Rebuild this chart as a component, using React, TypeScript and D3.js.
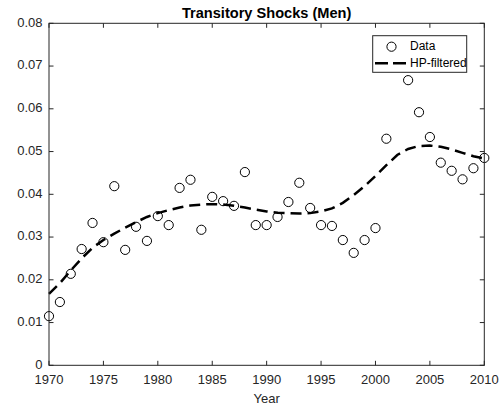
import React from "react";
import * as d3 from "d3";

const years: number[] = d3.range(1970, 2011);
const dataValues: (number | null)[] = [
  0.0115, 0.0148, 0.0214, 0.0272, 0.0333, 0.0288, 0.0419, 0.027, 0.0324, 0.0291,
  0.0349, 0.0328, 0.0415, 0.0434, 0.0317, 0.0394, 0.0384, 0.0373, 0.0452, 0.0328,
  0.0328, 0.0347, 0.0382, 0.0427, 0.0368, 0.0328, 0.0326, 0.0293, 0.0263, 0.0293,
  0.0321, 0.053, null, 0.0667, 0.0592, 0.0534, 0.0474, 0.0455, 0.0435, 0.0461,
  0.0485,
];
const hpValues: number[] = [
  0.0167, 0.0192, 0.0222, 0.025, 0.0275, 0.0293, 0.0308, 0.0322, 0.0335, 0.0347,
  0.0356, 0.0363, 0.0369, 0.0374, 0.0376, 0.0377, 0.0376, 0.0373, 0.0369, 0.0364,
  0.036, 0.0357, 0.0356, 0.0355, 0.0356, 0.036, 0.0367, 0.038, 0.0398, 0.0419,
  0.0443, 0.0468, 0.0492, 0.0506, 0.0513, 0.0514, 0.0511, 0.0505, 0.0497, 0.0489,
  0.0484,
];
const xTicks: number[] = [1970, 1975, 1980, 1985, 1990, 1995, 2000, 2005, 2010];
const yTicks: number[] = [0, 0.01, 0.02, 0.03, 0.04, 0.05, 0.06, 0.07, 0.08];
const yTickLabels: string[] = ["0", "0.01", "0.02", "0.03", "0.04", "0.05", "0.06", "0.07", "0.08"];
const title = "Transitory Shocks (Men)";
const xLabel = "Year";
const legendLabels: string[] = ["Data", "HP-filtered"];

const W = 503;
const H = 412;
const L = 49, R = 484.3, T = 23.3, B = 365.3;
const C = "#262626";
const FONT = "'Liberation Sans', Arial, Helvetica, sans-serif";

export default function App() {
  const x = d3.scaleLinear().domain([1970, 2010]).range([L, R]);
  const y = d3.scaleLinear().domain([0, 0.08]).range([B, T]);
  const line = d3
    .line<number>()
    .x((_, i) => x(years[i]))
    .y((d) => y(d));
  const tl = 4.5;
  return (
    <svg
      width={W}
      height={H}
      style={{ position: "absolute", left: 0, top: 0, background: "#fff" }}
      fontFamily={FONT}
    >
      <rect x={0} y={0} width={W} height={H} fill="#fff" />
      {/* HP line */}
      <path
        d={line(hpValues) || ""}
        fill="none"
        stroke="#000"
        strokeWidth={2.5}
        strokeDasharray="11,6"
      />
      {/* data points */}
      {dataValues.map((v, i) =>
        v == null ? null : (
          <circle key={i} cx={x(years[i])} cy={y(v)} r={4.6} fill="none" stroke="#000" strokeWidth={1} />
        )
      )}
      {/* axes box */}
      <rect x={L} y={T} width={R - L} height={B - T} fill="none" stroke={C} strokeWidth={1} />
      {xTicks.map((t) => (
        <g key={"x" + t}>
          <line x1={x(t)} x2={x(t)} y1={B} y2={B - tl} stroke={C} />
          <line x1={x(t)} x2={x(t)} y1={T} y2={T + tl} stroke={C} />
          <text x={x(t)} y={381} fontSize={13} fill={C} textAnchor="middle" dominantBaseline="middle">
            {t}
          </text>
        </g>
      ))}
      {yTicks.map((t, i) => (
        <g key={"y" + t}>
          <line x1={L} x2={L + tl} y1={y(t)} y2={y(t)} stroke={C} />
          <line x1={R} x2={R - tl} y1={y(t)} y2={y(t)} stroke={C} />
          <text x={42.5} y={y(t)} fontSize={13} fill={C} textAnchor="end" dominantBaseline="middle">
            {yTickLabels[i]}
          </text>
        </g>
      ))}
      <text x={(L + R) / 2} y={14.5} fontSize={14.6} fontWeight="bold" fill="#000" textAnchor="middle" dominantBaseline="middle">
        {title}
      </text>
      <text x={(L + R) / 2} y={400} fontSize={13} fill={C} textAnchor="middle" dominantBaseline="middle">
        {xLabel}
      </text>
      {/* legend */}
      <rect x={372.7} y={35.7} width={94} height={36.6} fill="#fff" stroke={C} strokeWidth={1} />
      <circle cx={391.5} cy={46.7} r={4.6} fill="none" stroke="#000" strokeWidth={1} />
      <text x={410} y={47} fontSize={12} fill="#000" dominantBaseline="middle">
        {legendLabels[0]}
      </text>
      <line x1={375} x2={406} y1={63.3} y2={63.3} stroke="#000" strokeWidth={2.5} strokeDasharray="13,5" />
      <text x={410} y={63.5} fontSize={12} fill="#000" dominantBaseline="middle">
        {legendLabels[1]}
      </text>
    </svg>
  );
}
